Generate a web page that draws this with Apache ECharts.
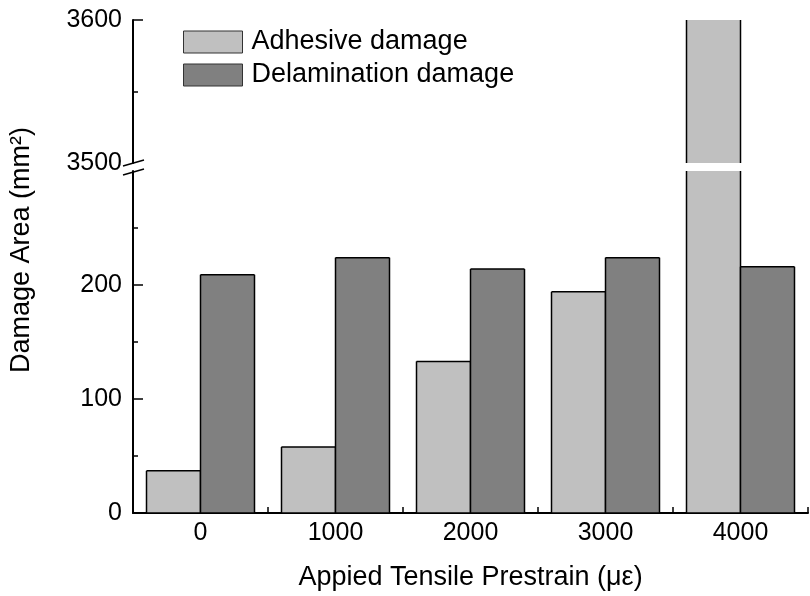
<!DOCTYPE html>
<html>
<head>
<meta charset="utf-8">
<script src="https://cdn.jsdelivr.net/npm/echarts@6/dist/echarts.min.js"></script>
<style>
  html, body { margin: 0; padding: 0; background: #fff; }
  #chart { width: 810px; height: 596px; }
</style>
</head>
<body>
<div id="chart"></div>
<script>
// Prestrain levels (με) and measured damage areas (mm²)
const categories = ['0', '1000', '2000', '3000', '4000'];
const adhesiveDamage = [37, 58, 133, 194, 3650];
const delaminationDamage = [209, 224, 214, 224, 216];

// Broken y axis: lower segment and upper segment
const lowerRange = [0, 300];
const lowerMajorTicks = [0, 100, 200];
const lowerMinorTicks = [50, 150, 250];
const upperRange = [3500, 3600];
const upperLabels = [3500, 3600];
const upperMajorTicks = [3600];
const upperMinorTicks = [3550];

const FONT = '"Liberation Sans", Arial, sans-serif';
const LIGHT = '#c0c0c0';
const DARK = '#808080';
const EDGE = '#000';
const BAR_FRACTION = 0.4;

const PLOT_LEFT = 133, PLOT_WIDTH = 675;
const UPPER_TOP = 20, UPPER_BOTTOM = 163;
const LOWER_TOP = 171, LOWER_BOTTOM = 513;

// Draws one bar of a group; edges cut by the axis break are left open
function barRenderer(side, color) {
  return function (params, api) {
    const cs = params.coordSys;
    const idx = api.value(0);
    const val = api.value(1);
    const band = api.size([1, 0])[0];
    const w = band * BAR_FRACTION;
    const pTop = api.coord([idx, val]);
    const yBase = api.coord([idx, 0])[1];
    const x0 = side < 0 ? pTop[0] - w : pTop[0];
    const x1 = x0 + w;
    const top = Math.max(pTop[1], cs.y);
    const bottom = Math.min(yBase, cs.y + cs.height);
    if (bottom - top <= 0) return null;
    const edge = { stroke: EDGE, lineWidth: 1.5, fill: null };
    const children = [
      { type: 'rect', shape: { x: x0, y: top, width: w, height: bottom - top }, style: { fill: color } },
      { type: 'line', shape: { x1: x0, y1: top, x2: x0, y2: bottom }, style: edge },
      { type: 'line', shape: { x1: x1, y1: top, x2: x1, y2: bottom }, style: edge }
    ];
    if (pTop[1] >= cs.y) {
      children.push({ type: 'line', shape: { x1: x0, y1: top, x2: x1, y2: top }, style: edge });
    }
    if (yBase <= cs.y + cs.height) {
      children.push({ type: 'line', shape: { x1: x0, y1: bottom, x2: x1, y2: bottom }, style: edge });
    }
    return { type: 'group', children: children };
  };
}

function pairs(values) {
  return values.map(function (v, i) { return [i, v]; });
}

const axisLineStyle = { color: '#000', width: 2 };
const labelStyle = { color: '#000', fontSize: 25, fontFamily: FONT };

function valueAxis(gridIndex, range, labels, ticks) {
  return {
    type: 'value',
    gridIndex: gridIndex,
    position: 'left',
    min: range[0],
    max: range[1],
    axisLine: { show: true, lineStyle: axisLineStyle },
    axisTick: { show: true, inside: true, length: 10, customValues: ticks, lineStyle: { color: '#000', width: 1.5 } },
    axisLabel: Object.assign({
      show: true, margin: 11, customValues: labels,
      formatter: function (v) { return String(v); }
    }, labelStyle),
    splitLine: { show: false }
  };
}

function minorAxis(gridIndex, range, ticks) {
  return {
    type: 'value',
    gridIndex: gridIndex,
    position: 'left',
    min: range[0],
    max: range[1],
    axisLine: { show: false },
    axisTick: { show: true, inside: true, length: 5, customValues: ticks, lineStyle: { color: '#000', width: 1.5 } },
    axisLabel: { show: false },
    splitLine: { show: false }
  };
}

const chart = echarts.init(document.getElementById('chart'), null, { renderer: 'canvas' });

chart.setOption({
  animation: false,
  backgroundColor: '#fff',
  textStyle: { fontFamily: FONT, color: '#000' },
  grid: [
    { left: PLOT_LEFT, width: PLOT_WIDTH, top: UPPER_TOP, height: UPPER_BOTTOM - UPPER_TOP },
    { left: PLOT_LEFT, width: PLOT_WIDTH, top: LOWER_TOP, height: LOWER_BOTTOM - LOWER_TOP }
  ],
  legend: {
    orient: 'vertical',
    left: 178,
    top: 23.5,
    itemWidth: 59,
    itemHeight: 22,
    itemGap: 6,
    icon: 'rect',
    selectedMode: false,
    textStyle: { fontSize: 27, lineHeight: 27, color: '#000', fontFamily: FONT, padding: [0, 0, 0, 4] },
    data: [
      { name: 'Adhesive damage', itemStyle: { color: LIGHT, borderColor: '#333', borderWidth: 1 } },
      { name: 'Delamination damage', itemStyle: { color: DARK, borderColor: '#333', borderWidth: 1 } }
    ]
  },
  xAxis: [
    { type: 'category', gridIndex: 0, data: categories, show: false },
    {
      type: 'category',
      gridIndex: 1,
      data: categories,
      axisLine: { show: true, lineStyle: axisLineStyle },
      axisTick: { show: true, inside: true, length: 6, lineStyle: { color: '#000', width: 1.5 } },
      axisLabel: Object.assign({ margin: 8 }, labelStyle),
      name: 'Appied Tensile Prestrain (με)',
      nameLocation: 'middle',
      nameGap: 51,
      nameTextStyle: { fontSize: 27, color: '#000', fontFamily: FONT }
    }
  ],
  yAxis: [
    valueAxis(0, upperRange, upperLabels, upperMajorTicks),
    valueAxis(1, lowerRange, lowerMajorTicks, lowerMajorTicks),
    minorAxis(0, upperRange, upperMinorTicks),
    minorAxis(1, lowerRange, lowerMinorTicks)
  ],
  series: [
    { type: 'custom', name: 'Adhesive damage', xAxisIndex: 1, yAxisIndex: 1, itemStyle: { color: LIGHT },
      renderItem: barRenderer(-1, LIGHT), encode: { x: 0, y: 1 }, data: pairs(adhesiveDamage) },
    { type: 'custom', name: 'Delamination damage', xAxisIndex: 1, yAxisIndex: 1, itemStyle: { color: DARK },
      renderItem: barRenderer(1, DARK), encode: { x: 0, y: 1 }, data: pairs(delaminationDamage) },
    { type: 'custom', name: 'Adhesive damage', xAxisIndex: 0, yAxisIndex: 0, itemStyle: { color: LIGHT },
      renderItem: barRenderer(-1, LIGHT), encode: { x: 0, y: 1 }, data: pairs(adhesiveDamage) },
    { type: 'custom', name: 'Delamination damage', xAxisIndex: 0, yAxisIndex: 0, itemStyle: { color: DARK },
      renderItem: barRenderer(1, DARK), encode: { x: 0, y: 1 }, data: pairs(delaminationDamage) }
  ],
  graphic: [
    {
      type: 'text',
      x: 22,
      y: 250,
      rotation: Math.PI / 2,
      style: { text: 'Damage Area (mm²)', fontSize: 27, fontFamily: FONT, fill: '#000', align: 'center', verticalAlign: 'middle' }
    },
    // axis break marks
    { type: 'line', shape: { x1: PLOT_LEFT - 10, y1: UPPER_BOTTOM + 3, x2: PLOT_LEFT + 11, y2: UPPER_BOTTOM - 3 },
      style: { stroke: '#000', lineWidth: 1.5 } },
    { type: 'line', shape: { x1: PLOT_LEFT - 10, y1: LOWER_TOP + 4, x2: PLOT_LEFT + 11, y2: LOWER_TOP - 2 },
      style: { stroke: '#000', lineWidth: 1.5 } }
  ]
});
</script>
</body>
</html>
